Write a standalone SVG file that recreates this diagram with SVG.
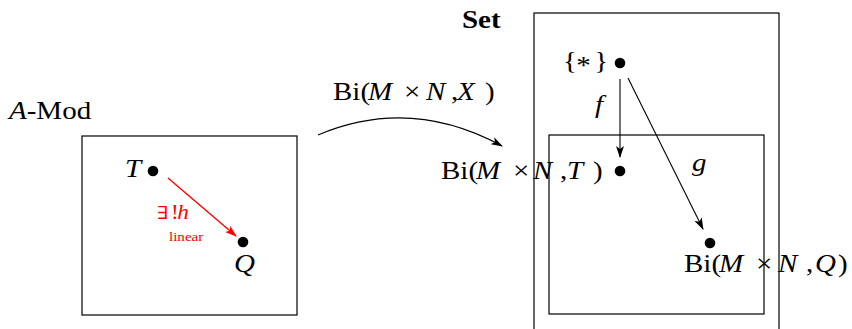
<svg xmlns="http://www.w3.org/2000/svg" width="852" height="329" viewBox="0 0 852 329">
<style>
text{font-family:"Liberation Serif","Times New Roman",serif;font-size:25px;fill:#000}
.i{font-style:italic}
.m{font-family:"DejaVu Serif",serif}
.box{fill:none;stroke:#000;stroke-width:1.2}
.ln{fill:none;stroke:#000;stroke-width:1.1}
.red{fill:none;stroke:#f00;stroke-width:1.4}
.dot{fill:#000}
</style>
<defs>
<marker id="ah" markerWidth="12" markerHeight="8" refX="11" refY="4" orient="auto" markerUnits="userSpaceOnUse">
<path d="M0,0 L12,4 L0,8 L3,4 Z" fill="#000"/>
</marker>
<marker id="ahr" markerWidth="12" markerHeight="8" refX="11" refY="4" orient="auto" markerUnits="userSpaceOnUse">
<path d="M0,0 L12,4 L0,8 L3,4 Z" fill="#f00"/>
</marker>
</defs>

<g id="amod">
<rect class="box" x="82" y="136" width="215" height="179"/>
<text transform="translate(9,119) scale(1.16,1)"><tspan class="i">A</tspan>-Mod</text>
</g>
<g id="T">
<circle class="dot" cx="153" cy="171" r="5.3"/>
<text class="i" transform="translate(125,177) scale(1.16,1)">T</text>
</g>
<g id="Q">
<circle class="dot" cx="243" cy="242" r="5.3"/>
<text class="i" transform="translate(234,272) scale(1.16,1)">Q</text>
</g>

<g id="set">
<rect class="box" x="534" y="13" width="245" height="330"/>
<text font-weight="bold" transform="translate(462,28) scale(1.16,1)">Set</text>
</g>
<g id="inner">
<rect class="box" x="549" y="135" width="215" height="179"/>
</g>
<g id="star">
<circle class="dot" cx="620" cy="63" r="5.3"/>
<text transform="translate(563,69) scale(1.16,1)">{<tspan x="11.5" dy="5">*</tspan><tspan x="27" dy="-5">}</tspan></text>
</g>
<g id="BiT">
<circle class="dot" cx="620" cy="171" r="5.3"/>
<text transform="translate(441,179) scale(1.16,1)">Bi(<tspan class="i" x="30.2">M</tspan><tspan x="62.1">×</tspan><tspan class="i" x="79.3">N</tspan><tspan x="102.6">,</tspan><tspan class="i" x="108.6">T</tspan><tspan x="131">)</tspan></text>
</g>
<g id="BiQ">
<circle class="dot" cx="710" cy="243" r="5.3"/>
<text transform="translate(684,272) scale(1.16,1)">Bi(<tspan class="i" x="30.2">M</tspan><tspan x="62.1">×</tspan><tspan class="i" x="81">N</tspan><tspan x="105.2">,</tspan><tspan class="i" x="112.9">Q</tspan><tspan x="132.8">)</tspan></text>
</g>

<g id="connectors">
<path class="red" d="M168,178 L236,236" marker-end="url(#ahr)"/>
<text transform="translate(157,219) scale(1.16,1)" style="fill:#f00;font-size:20px"><tspan class="m" style="font-size:18px">∃</tspan><tspan x="12">!</tspan><tspan class="i" x="17.5">h</tspan></text>
<text transform="translate(169,241) scale(1.16,1)" style="fill:#f00;font-size:13px">linear</text>

<path class="ln" d="M318,135 Q410,96 502,146" marker-end="url(#ah)"/>
<text transform="translate(333,100) scale(1.16,1)">Bi(<tspan class="i" x="30.2">M</tspan><tspan x="61.2">×</tspan><tspan class="i" x="80.2">N</tspan><tspan x="101.7">,</tspan><tspan class="i" x="106.9">X</tspan><tspan x="131">)</tspan></text>

<path class="ln" d="M620,79 L620,157" marker-end="url(#ah)"/>
<text class="i" transform="translate(595,113) scale(1.16,1)">f</text>
<path class="ln" d="M628,78 L703,229" marker-end="url(#ah)"/>
<text class="i" transform="translate(692,171) scale(1.16,1)">g</text>
</g>
</svg>
